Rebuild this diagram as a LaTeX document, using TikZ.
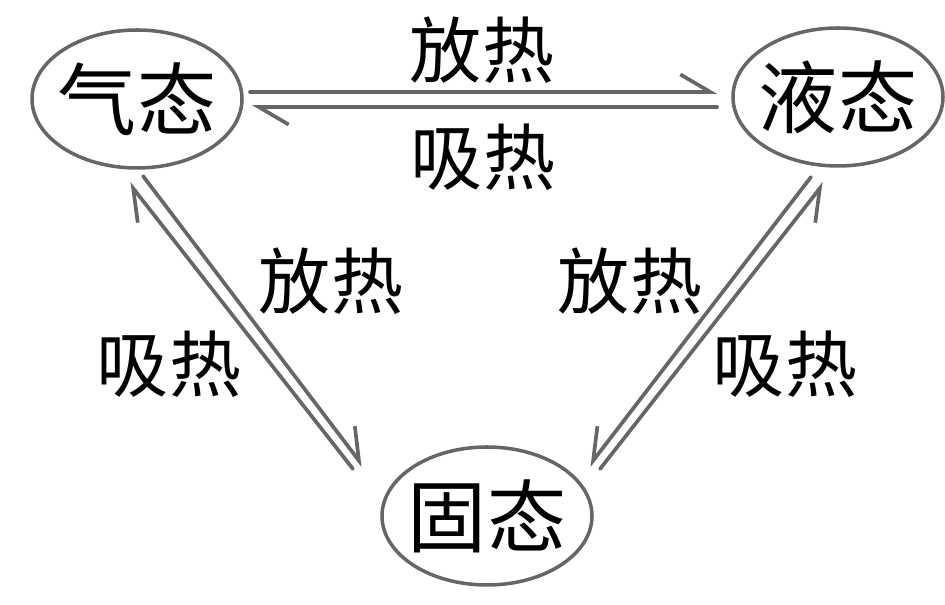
\documentclass[tikz,border=0pt]{standalone}
\usepackage{fontspec}
\setmainfont{Noto Sans CJK SC}
\usepackage{tikz}
\usetikzlibrary{arrows.meta}
\usetikzlibrary{shapes.geometric}
\definecolor{linegray}{HTML}{666666}

\begin{document}
\begin{tikzpicture}[
  state/.style={draw=linegray,line width=2pt,ellipse,inner xsep=-10pt,inner ysep=-20pt,
    minimum width=4.2cm,minimum height=2.76cm,font=\fontsize{45}{45}\selectfont},
  heat/.style={inner sep=0pt,font=\fontsize{41}{41}\selectfont},
  flowl/.style={draw=linegray,line width=2.1pt,line cap=round,-{Straight Barb[left,length=17pt,width=20pt]}},
  flowr/.style={draw=linegray,line width=2.1pt,line cap=round,-{Straight Barb[right,length=17pt,width=20pt]}}]
\useasboundingbox (0,0) rectangle (18.9,12.1);
% states
\node[state] (gas) at (2.74,10.12) {气态};
\node[state] (liquid) at (16.76,10.16) {液态};
\node[state] (solid) at (9.74,1.78) {固态};
% ends of the arrows
\coordinate (gl0) at (5.00,10.26);  \coordinate (gl1) at (14.34,10.26);
\coordinate (lg0) at (14.34,9.96);  \coordinate (lg1) at (5.04,9.96);
\coordinate (gs0) at (2.86,8.58);   \coordinate (gs1) at (7.26,2.78);
\coordinate (sg0) at (7.06,2.72);   \coordinate (sg1) at (2.58,8.44);
\coordinate (ls0) at (16.22,8.56);  \coordinate (ls1) at (11.78,2.78);
\coordinate (sl0) at (12.00,2.72);  \coordinate (sl1) at (16.48,8.44);
\draw[flowl] (gl0) -- (gl1);
\draw[flowl] (lg0) -- (lg1);
\draw[flowl] (gs0) -- (gs1);
\draw[flowl] (sg0) -- (sg1);
\draw[flowr] (ls0) -- (ls1);
\draw[flowr] (sl0) -- (sl1);
% labels
\node[heat] (glheat) at (9.64,11.10) {放热};
\node[heat] (lgheat) at (9.66,8.96) {吸热};
\node[heat] (gsheat) at (6.62,6.48) {放热};
\node[heat] (sgheat) at (3.38,4.82) {吸热};
\node[heat] (lsheat) at (12.60,6.48) {放热};
\node[heat] (slheat) at (15.70,4.82) {吸热};
\end{tikzpicture}
\end{document}
